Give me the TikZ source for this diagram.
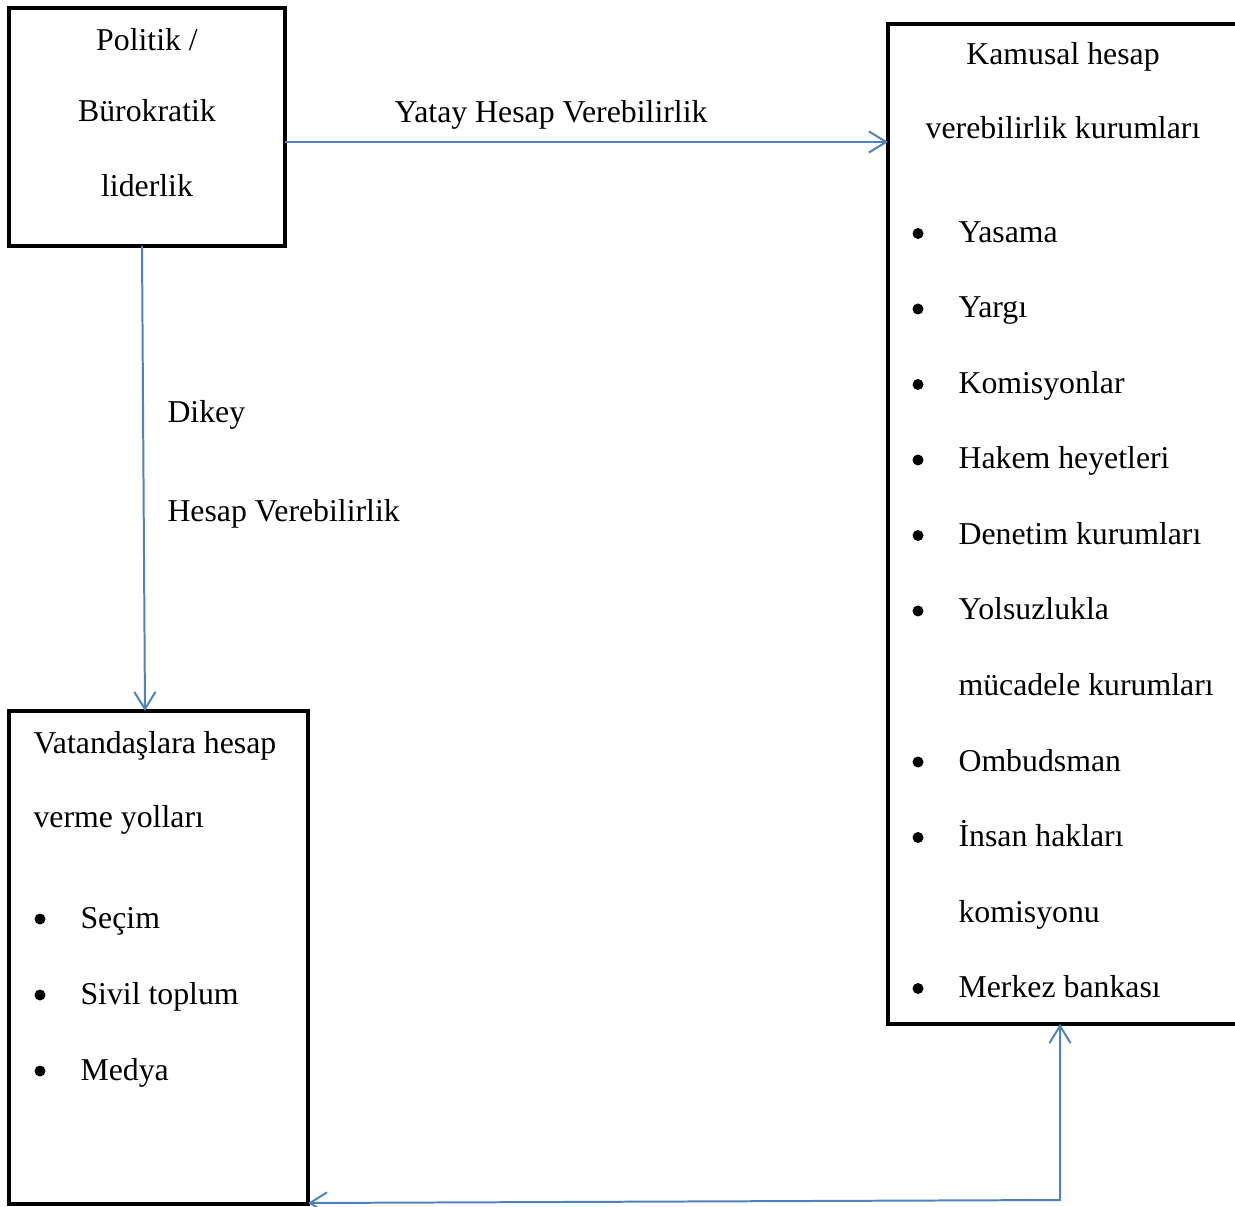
\documentclass[tikz,border=0pt]{standalone}
\usepackage{fontspec}
\setmainfont{Liberation Serif}
\usepackage{tikz}
\usetikzlibrary{arrows.meta}
\definecolor{okmavi}{RGB}{79,129,189}
\def\birim{0.3774pt}

\begin{document}
\begin{tikzpicture}[x=\birim, y=-\birim, >={Straight Barb[length=6.5pt, width=8pt]},
    kutu/.style={draw, line width=1.5pt, inner sep=0pt, outer sep=0pt, anchor=north west},
    ok/.style={->, draw=okmavi, line width=0.75pt},
    yazi/.style={font=\fontsize{12}{14}\selectfont, inner sep=0pt, anchor=base},
    madde/.style={yazi, anchor=base west},
    nokta/.style={circle, fill, inner sep=0pt, minimum size=11*\birim}]
    % sayfa boyutu
    \useasboundingbox (0,0) rectangle (1235,1207);
    \clip (0,0) rectangle (1235,1207);

    % Kutular
    \node[kutu, minimum width=276*\birim, minimum height=238*\birim] (lider) at (9,8) {};
    \node[kutu, minimum width=362*\birim, minimum height=1000*\birim] (kamu) at (888,24) {};
    \node[kutu, minimum width=299*\birim, minimum height=493*\birim] (vatandas) at (9,711) {};

    % Liderlik
    \node[yazi] (l1) at (147,51) {Politik /};
    \node[yazi] (l2) at (147,122) {Bürokratik};
    \node[yazi] (l3) at (147,197) {liderlik};

    % Kamusal kurumlar
    \node[yazi] (k1) at (1063,65) {Kamusal hesap};
    \node[yazi] (k2) at (1063,139) {verebilirlik kurumları};
    \foreach \metin/\isaret [count=\i] in {Yasama/1, Yargı/1, Komisyonlar/1,
        Hakem heyetleri/1, Denetim kurumları/1, Yolsuzlukla/1,
        mücadele kurumları/0, Ombudsman/1, İnsan hakları/1, komisyonu/0,
        Merkez bankası/1}{
        \node[madde] (km\i) at (958,{242.5+(\i-1)*75.5}) {\metin};
        \ifnum\isaret=1
            \node[nokta] (kn\i) at (918,{233.5+(\i-1)*75.5}) {};
        \fi
    }

    % Vatandaslar
    \node[madde] (v1) at (33,753) {Vatandaşlara hesap};
    \node[madde] (v2) at (33,827) {verme yolları};
    \foreach \metin [count=\i] in {Seçim, Sivil toplum, Medya}{
        \node[madde] (vm\i) at (80,{928+(\i-1)*76}) {\metin};
        \node[nokta] (vn\i) at (40,{919+(\i-1)*76}) {};
    }

    % Oklar
    \coordinate (yatay) at (0,142);
    \coordinate (kose) at (1060,1200);
    \coordinate (sol) at (0,1203);
    \draw[ok] (lider.east |- yatay) -- (kamu.west |- yatay);
    \node[yazi] (yt) at (551,123) {Yatay Hesap Verebilirlik};
    \draw[ok] ([xshift=-5*\birim]lider.south) -- ([xshift=-13.5*\birim]vatandas.north);
    \node[madde] (d1) at (167,423) {Dikey};
    \node[madde] (d2) at (167,522) {Hesap Verebilirlik};
    \draw[ok, <->] (sol -| vatandas.east) -- (kose) -- (kose |- kamu.south);
\end{tikzpicture}
\end{document}
